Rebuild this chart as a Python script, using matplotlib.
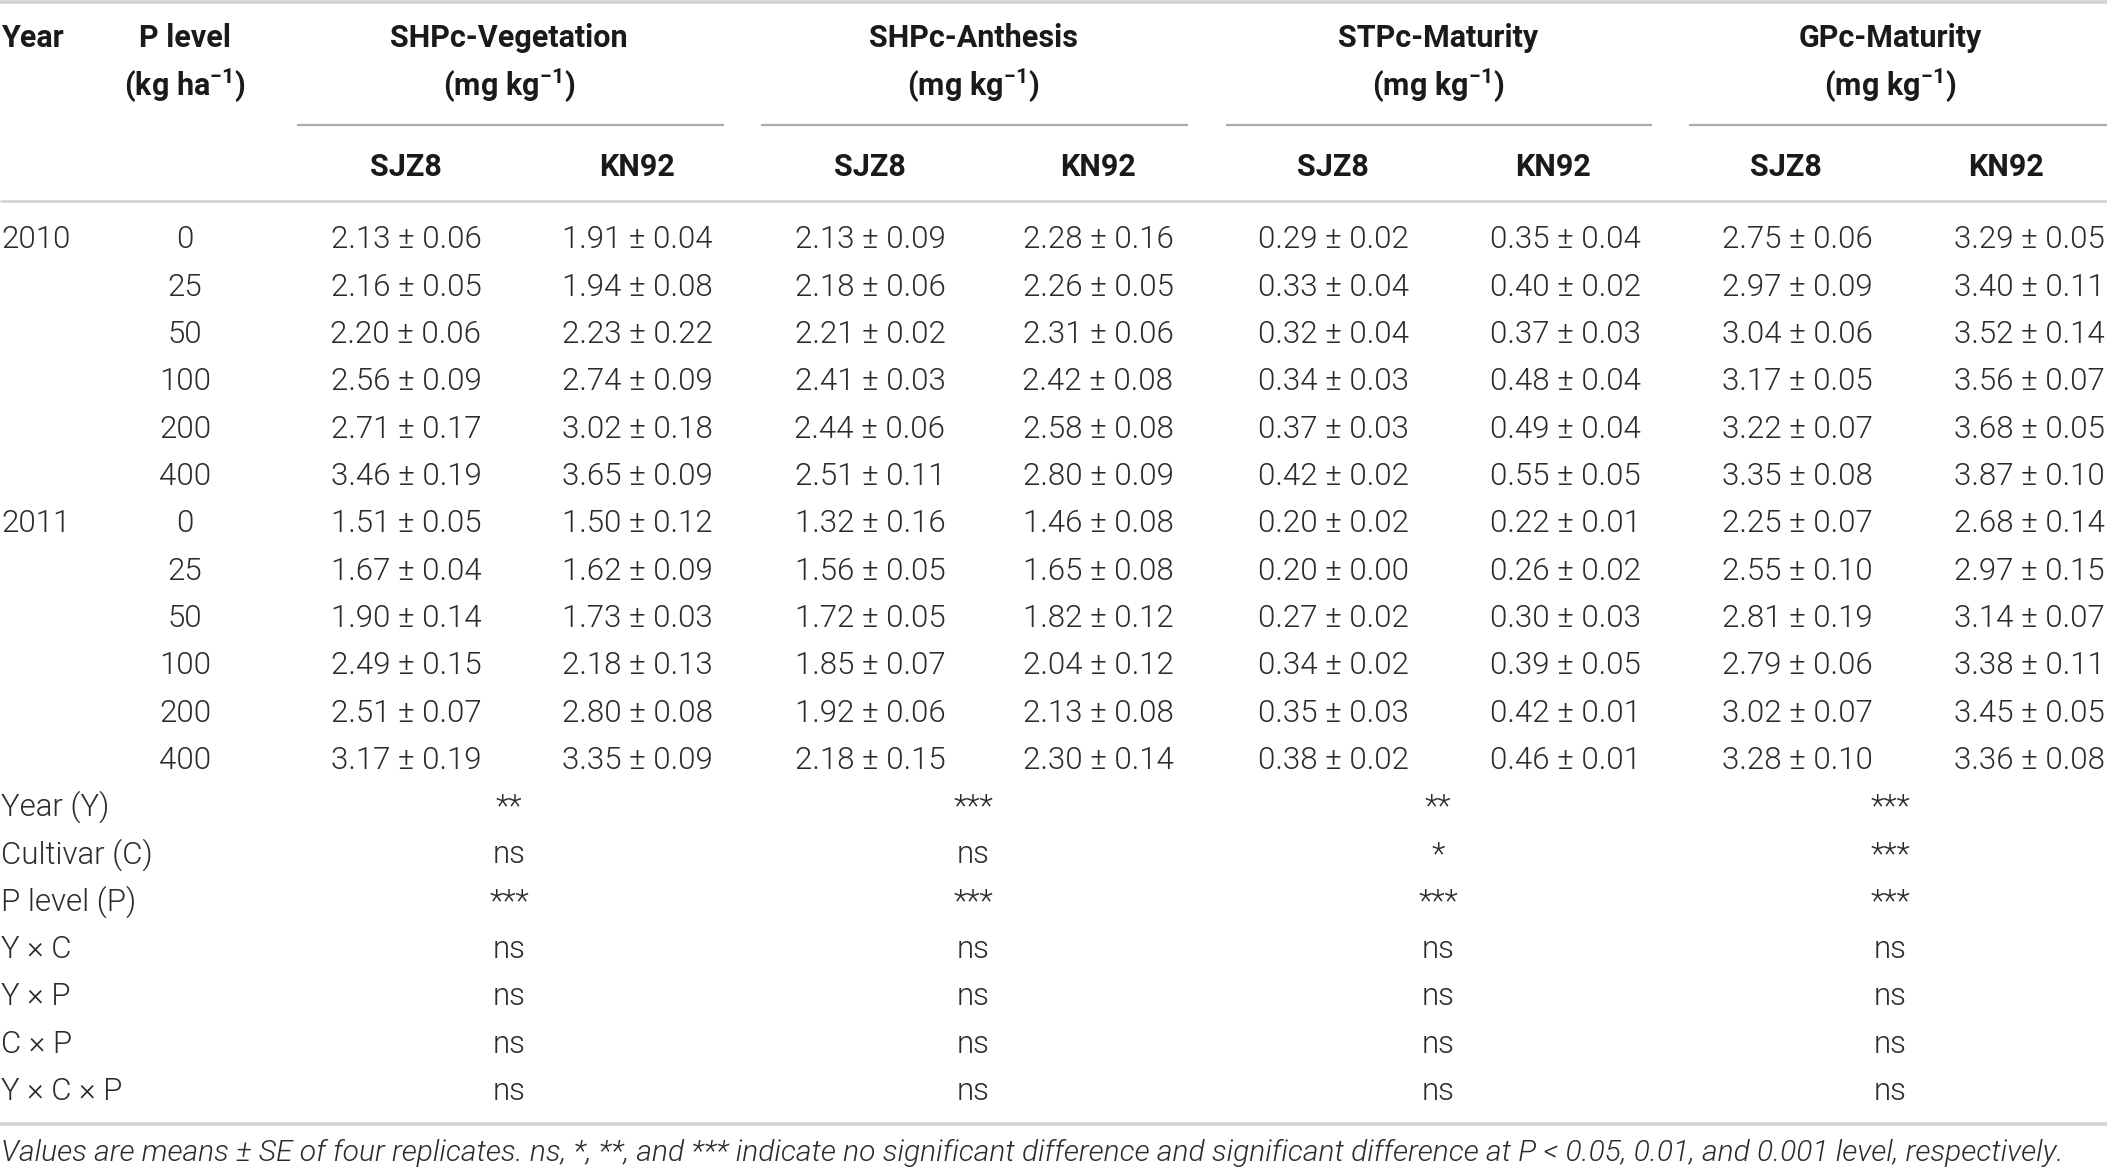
#!/usr/bin/env python3
"""Table of P concentrations by year, P level and cultivar, drawn as text."""
import matplotlib
matplotlib.use("Agg")
import matplotlib.pyplot as plt
from matplotlib import font_manager as fm

# ---- data -----------------------------------------------------------------
years = ["2010", "", "", "", "", "", "2011", "", "", "", "", ""]
p_levels = ["0", "25", "50", "100", "200", "400"] * 2

groups = ["SHPc-Vegetation", "SHPc-Anthesis", "STPc-Maturity", "GPc-Maturity"]
cultivars = ["SJZ8", "KN92"]

shpc_veg_sjz8 = ["2.13 ± 0.06", "2.16 ± 0.05", "2.20 ± 0.06", "2.56 ± 0.09", "2.71 ± 0.17", "3.46 ± 0.19",
                 "1.51 ± 0.05", "1.67 ± 0.04", "1.90 ± 0.14", "2.49 ± 0.15", "2.51 ± 0.07", "3.17 ± 0.19"]
shpc_veg_kn92 = ["1.91 ± 0.04", "1.94 ± 0.08", "2.23 ± 0.22", "2.74 ± 0.09", "3.02 ± 0.18", "3.65 ± 0.09",
                 "1.50 ± 0.12", "1.62 ± 0.09", "1.73 ± 0.03", "2.18 ± 0.13", "2.80 ± 0.08", "3.35 ± 0.09"]
shpc_ant_sjz8 = ["2.13 ± 0.09", "2.18 ± 0.06", "2.21 ± 0.02", "2.41 ± 0.03", "2.44 ± 0.06", "2.51 ± 0.11",
                 "1.32 ± 0.16", "1.56 ± 0.05", "1.72 ± 0.05", "1.85 ± 0.07", "1.92 ± 0.06", "2.18 ± 0.15"]
shpc_ant_kn92 = ["2.28 ± 0.16", "2.26 ± 0.05", "2.31 ± 0.06", "2.42 ± 0.08", "2.58 ± 0.08", "2.80 ± 0.09",
                 "1.46 ± 0.08", "1.65 ± 0.08", "1.82 ± 0.12", "2.04 ± 0.12", "2.13 ± 0.08", "2.30 ± 0.14"]
stpc_mat_sjz8 = ["0.29 ± 0.02", "0.33 ± 0.04", "0.32 ± 0.04", "0.34 ± 0.03", "0.37 ± 0.03", "0.42 ± 0.02",
                 "0.20 ± 0.02", "0.20 ± 0.00", "0.27 ± 0.02", "0.34 ± 0.02", "0.35 ± 0.03", "0.38 ± 0.02"]
stpc_mat_kn92 = ["0.35 ± 0.04", "0.40 ± 0.02", "0.37 ± 0.03", "0.48 ± 0.04", "0.49 ± 0.04", "0.55 ± 0.05",
                 "0.22 ± 0.01", "0.26 ± 0.02", "0.30 ± 0.03", "0.39 ± 0.05", "0.42 ± 0.01", "0.46 ± 0.01"]
gpc_mat_sjz8 = ["2.75 ± 0.06", "2.97 ± 0.09", "3.04 ± 0.06", "3.17 ± 0.05", "3.22 ± 0.07", "3.35 ± 0.08",
                "2.25 ± 0.07", "2.55 ± 0.10", "2.81 ± 0.19", "2.79 ± 0.06", "3.02 ± 0.07", "3.28 ± 0.10"]
gpc_mat_kn92 = ["3.29 ± 0.05", "3.40 ± 0.11", "3.52 ± 0.14", "3.56 ± 0.07", "3.68 ± 0.05", "3.87 ± 0.10",
                "2.68 ± 0.14", "2.97 ± 0.15", "3.14 ± 0.07", "3.38 ± 0.11", "3.45 ± 0.05", "3.36 ± 0.08"]

effects = ["Year (Y)", "Cultivar (C)", "P level (P)", "Y × C", "Y × P", "C × P", "Y × C × P"]
sig_shpc_veg = ["**", "ns", "***", "ns", "ns", "ns", "ns"]
sig_shpc_ant = ["***", "ns", "***", "ns", "ns", "ns", "ns"]
sig_stpc_mat = ["**", "*", "***", "ns", "ns", "ns", "ns"]
sig_gpc_mat = ["***", "***", "***", "ns", "ns", "ns", "ns"]

footnote = ("Values are means ± SE of four replicates. ns, *, **, and *** indicate no significant "
            "difference and significant difference at P < 0.05, 0.01, and 0.001 level, respectively.")

data_cols = [shpc_veg_sjz8, shpc_veg_kn92, shpc_ant_sjz8, shpc_ant_kn92,
             stpc_mat_sjz8, stpc_mat_kn92, gpc_mat_sjz8, gpc_mat_kn92]
sig_cols = [sig_shpc_veg, sig_shpc_ant, sig_stpc_mat, sig_gpc_mat]


def _light_family():
    for fam in ("Roboto", "Lato", "Open Sans", "Inter", "Noto Sans"):
        for f in fm.fontManager.ttflist:
            if f.name == fam and str(f.weight) in ("300", "light") and f.style == "normal":
                return fam
    return "Liberation Sans"


FAM = _light_family()
plt.rcParams["font.family"] = [FAM, "DejaVu Sans"]
plt.rcParams["mathtext.fontset"] = "custom"
plt.rcParams["mathtext.rm"] = FAM
plt.rcParams["mathtext.bf"] = f"{FAM}:bold"

W, H = 2107, 1168
FS_BODY, FS_HEAD, FS_NOTE = 22.5, 22, 21.6
INK, HEAD, RULE, RULE2 = "#2b2b2b", "#1a1a1a", "#d2d2d2", "#ababab"

# layout (pixel coordinates, y downward)
x_year, x_plev = 1, 185
grp_x = [509, 973, 1438, 1890]
grp_span = [(297, 724), (761, 1188), (1226, 1652), (1689, 2107)]
head_x = [406, 637, 870, 1098, 1333, 1553, 1786, 2006]
col_x = [406, 637, 870, 1098, 1333, 1565, 1797, 2029]
y_h1, y_h2, y_h3 = 38, 85, 167
y_row0, dy_row = 240, 47.3
y_eff0, dy_eff = 807, 47.45

fig = plt.figure(figsize=(W / 100, H / 100), dpi=100)
ax = fig.add_axes([0, 0, 1, 1])
ax.set_xlim(0, W); ax.set_ylim(H, 0); ax.axis("off")


def txt(x, y, s, ha="center", bold=False, **kw):
    ax.text(x, y, s, ha=ha, va="center", fontsize=FS_HEAD if bold else FS_BODY,
            fontweight="bold" if bold else 300, color=HEAD if bold else INK, **kw)


# rules
ax.plot([0, W], [2, 2], color=RULE, lw=2.6, solid_capstyle="butt")
ax.plot([0, W], [201, 201], color=RULE, lw=1.9, solid_capstyle="butt")
ax.plot([0, W], [1124, 1124], color=RULE, lw=2.6, solid_capstyle="butt")
for a, b in grp_span:
    ax.plot([a, b], [125, 125], color=RULE2, lw=1.6, solid_capstyle="butt")

# header
txt(x_year, y_h1, "Year", ha="left", bold=True)
txt(x_plev, y_h1, "P level", bold=True)
txt(x_plev, y_h2, r"(kg ha$^{\mathbf{-1}}$)", bold=True)
for gx, g in zip(grp_x, groups):
    txt(gx, y_h1, g, bold=True)
    txt(gx, y_h2, r"(mg kg$^{\mathbf{-1}}$)", bold=True)
for i, hx in enumerate(head_x):
    txt(hx, y_h3, cultivars[i % 2], bold=True)

# body
for r in range(len(p_levels)):
    y = y_row0 + r * dy_row
    if years[r]:
        txt(x_year, y, years[r], ha="left")
    txt(x_plev, y, p_levels[r])
    for cx, col in zip(col_x, data_cols):
        txt(cx, y, col[r])

# ANOVA rows
for r, eff in enumerate(effects):
    y = y_eff0 + r * dy_eff
    txt(x_year, y, eff, ha="left")
    for gx, col in zip(grp_x, sig_cols):
        txt(gx, y, col[r])

ax.text(1, 1153, footnote, ha="left", va="center", fontsize=FS_NOTE, fontweight=300,
        fontstyle="italic", color=INK)

fig.savefig("out.png", dpi=100, facecolor="white")
